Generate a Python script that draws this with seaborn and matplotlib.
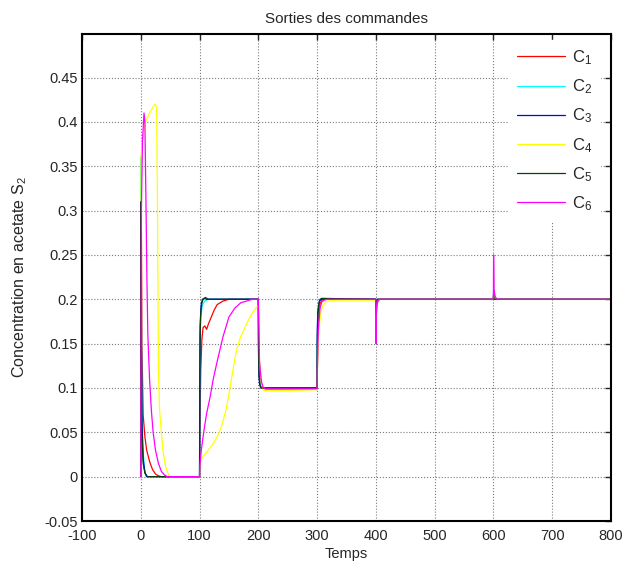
import numpy as np
import pandas as pd
import matplotlib
matplotlib.use("Agg")
import matplotlib.pyplot as plt
import seaborn as sns

series_names = ["C1", "C2", "C3", "C4", "C5", "C6"]
legend_labels = ["C$_1$", "C$_2$", "C$_3$", "C$_4$", "C$_5$", "C$_6$"]
colors = ["#ff0000", "#00ffff", "#0000ff", "#ffff00", "#0d3d0d", "#ff00ff"]

c1_t = [0, 0.5, 2, 4, 7, 10, 15, 20, 25, 30, 35, 100, 100.5, 102, 104, 106, 109, 112, 115, 120, 125, 130, 140, 150, 160,
        200, 200.5, 202, 205, 208, 212, 220, 300, 300.5, 302, 305, 308, 312, 320, 400, 400.5, 401.5, 403, 406,
        600, 600.5, 602, 605, 800]
c1_y = [0.0, 0.35, 0.15, 0.07, 0.045, 0.03, 0.017, 0.008, 0.003, 0.001, 0, 0, 0.05, 0.12, 0.155, 0.168, 0.17, 0.166,
        0.172, 0.18, 0.188, 0.194, 0.198, 0.2, 0.2, 0.2, 0.17, 0.125, 0.105, 0.1, 0.099, 0.099, 0.099, 0.13, 0.175,
        0.195, 0.199, 0.2, 0.2, 0.2, 0.18, 0.19, 0.197, 0.2, 0.2, 0.21, 0.203, 0.2, 0.2]

c2_t = [0, 0.3, 1, 2, 4, 6, 8, 12, 100, 100.3, 101, 102, 104, 106, 109, 115, 200, 200.3, 201, 203, 206, 210,
        300, 300.3, 301, 303, 306, 310, 400, 400.3, 401, 403, 600, 600.3, 601, 800]
c2_y = [0, 0.36, 0.2, 0.08, 0.03, 0.01, 0.003, 0, 0, 0.07, 0.15, 0.18, 0.19, 0.195, 0.198, 0.2, 0.2, 0.16, 0.12,
        0.105, 0.1, 0.1, 0.1, 0.15, 0.18, 0.195, 0.2, 0.2, 0.2, 0.185, 0.196, 0.2, 0.2, 0.21, 0.2, 0.2]

c3_t = [0, 0.3, 1, 2, 4, 7, 10, 100, 100.3, 101, 102, 103, 105, 108, 112, 200, 200.3, 201, 202, 204, 207,
        300, 300.3, 301, 302, 304, 307, 400, 400.3, 401, 403, 600, 600.3, 601, 800]
c3_y = [0, 0.3, 0.15, 0.06, 0.02, 0.005, 0, 0, 0.1, 0.17, 0.185, 0.195, 0.2, 0.201, 0.2, 0.2, 0.14, 0.115, 0.105,
        0.1, 0.1, 0.1, 0.16, 0.183, 0.19, 0.198, 0.2, 0.2, 0.185, 0.197, 0.2, 0.2, 0.207, 0.2, 0.2]

c4_t = [0, 0.5, 3, 8, 15, 22, 25, 27, 28.5, 30, 32, 35, 38, 42, 46, 50, 100, 100.5, 105, 115, 123, 130, 137, 145,
        152, 158, 163, 170, 175, 182, 191, 200, 200.5, 202, 205, 208, 212, 220, 240, 300, 300.5, 303, 306, 310,
        315, 320, 330, 400, 400.5, 402, 405, 600, 600.5, 603, 800]
c4_y = [0, 0.36, 0.38, 0.4, 0.41, 0.418, 0.42, 0.415, 0.3, 0.12, 0.075, 0.05, 0.028, 0.012, 0.004, 0, 0, 0.015,
        0.022, 0.03, 0.037, 0.045, 0.056, 0.075, 0.101, 0.125, 0.143, 0.158, 0.165, 0.175, 0.186, 0.193, 0.175,
        0.13, 0.105, 0.098, 0.097, 0.097, 0.097, 0.098, 0.12, 0.165, 0.185, 0.193, 0.197, 0.198, 0.199, 0.199,
        0.185, 0.197, 0.2, 0.2, 0.205, 0.2, 0.2]

c5_t = [0, 0.3, 1, 2, 4, 7, 11, 100, 100.3, 101, 102, 104, 106, 110, 115, 200, 200.3, 201, 203, 205, 208,
        300, 300.3, 301, 303, 305, 308, 400, 400.3, 401, 403, 600, 600.3, 601, 800]
c5_y = [0, 0.31, 0.14, 0.05, 0.015, 0.004, 0, 0, 0.08, 0.16, 0.185, 0.196, 0.2, 0.202, 0.2, 0.2, 0.15, 0.115,
        0.103, 0.1, 0.1, 0.1, 0.15, 0.18, 0.195, 0.2, 0.201, 0.2, 0.185, 0.197, 0.2, 0.2, 0.205, 0.2, 0.2]

c6_t = [0, 1, 3, 5.5, 7, 9, 10.5, 12, 15, 18, 21, 25, 30, 35, 40, 45, 100, 100.5, 103, 107, 112, 118, 123, 130,
        140, 150, 160, 170, 180, 190, 200, 200.5, 202, 205, 208, 212, 220, 300, 300.5, 302, 305, 308, 312, 318,
        400, 400.3, 401, 403, 406, 600, 600.3, 601, 603, 606, 800]
c6_y = [0, 0.3, 0.38, 0.41, 0.4, 0.3, 0.22, 0.16, 0.109, 0.075, 0.05, 0.03, 0.015, 0.006, 0.002, 0, 0, 0.012, 0.03,
        0.05, 0.071, 0.09, 0.109, 0.13, 0.158, 0.18, 0.19, 0.196, 0.198, 0.2, 0.2, 0.18, 0.13, 0.108, 0.101, 0.099,
        0.099, 0.099, 0.12, 0.165, 0.19, 0.197, 0.199, 0.2, 0.2, 0.15, 0.19, 0.198, 0.2, 0.2, 0.25, 0.21, 0.203,
        0.2, 0.2]

x_ticks = [-100, 0, 100, 200, 300, 400, 500, 600, 700, 800]
y_ticks = [-0.05, 0, 0.05, 0.1, 0.15, 0.2, 0.25, 0.3, 0.35, 0.4, 0.45]
y_tick_labels = ["-0.05", "0", "0.05", "0.1", "0.15", "0.2", "0.25", "0.3", "0.35", "0.4", "0.45"]

all_t = [c1_t, c2_t, c3_t, c4_t, c5_t, c6_t]
all_y = [c1_y, c2_y, c3_y, c4_y, c5_y, c6_y]
frames = []
for name, t, y in zip(series_names, all_t, all_y):
    frames.append(pd.DataFrame({"Temps": t, "S2": y, "serie": name}))
df = pd.concat(frames, ignore_index=True)

sns.set_style("white")
plt.rcParams["font.family"] = ["Liberation Sans", "DejaVu Sans"]
plt.rcParams["mathtext.fontset"] = "custom"
plt.rcParams["mathtext.rm"] = "Liberation Sans"
plt.rcParams["mathtext.it"] = "Liberation Sans"
plt.rcParams["mathtext.default"] = "regular"

fig = plt.figure(figsize=(6.26, 5.61), dpi=100)
ax = fig.add_axes([0.131, 0.0713, 0.845, 0.868])

for name, col in zip(series_names, colors):
    sns.lineplot(data=df[df["serie"] == name], x="Temps", y="S2", color=col, lw=0.9,
                 estimator=None, sort=False, ax=ax, label=None, legend=False)

ax.set_xlim(-100, 800)
ax.set_ylim(-0.05, 0.499)
ax.set_xticks(x_ticks)
ax.set_xticklabels([str(v) for v in x_ticks])
ax.set_yticks(y_ticks)
ax.set_yticklabels(y_tick_labels)
ax.grid(True, linestyle=":", color="#7a7a7a", lw=0.8)
ax.tick_params(direction="in", length=4, width=1, top=True, right=True, labelsize=10.5)
ax.tick_params(axis="x", pad=6)
ax.tick_params(axis="y", pad=3)
for s in ax.spines.values():
    s.set_linewidth(1.5)
    s.set_color("black")

ax.set_title("Sorties des commandes", fontsize=11, pad=8)
ax.set_xlabel("Temps", fontsize=10.5, labelpad=2.5)
ax.set_ylabel("Concentration en acetate S$_2$", fontsize=11.5, labelpad=11)

handles = ax.get_lines()[:6]
leg = ax.legend(handles, legend_labels, loc="upper left", bbox_to_anchor=(0.807, 0.988),
                borderaxespad=0, frameon=True, fancybox=False, edgecolor="white", facecolor="white",
                framealpha=1, fontsize=12, handlelength=2.86, handletextpad=0.4,
                labelspacing=0.63, borderpad=0.5)

fig.savefig("out.png", dpi=100)
